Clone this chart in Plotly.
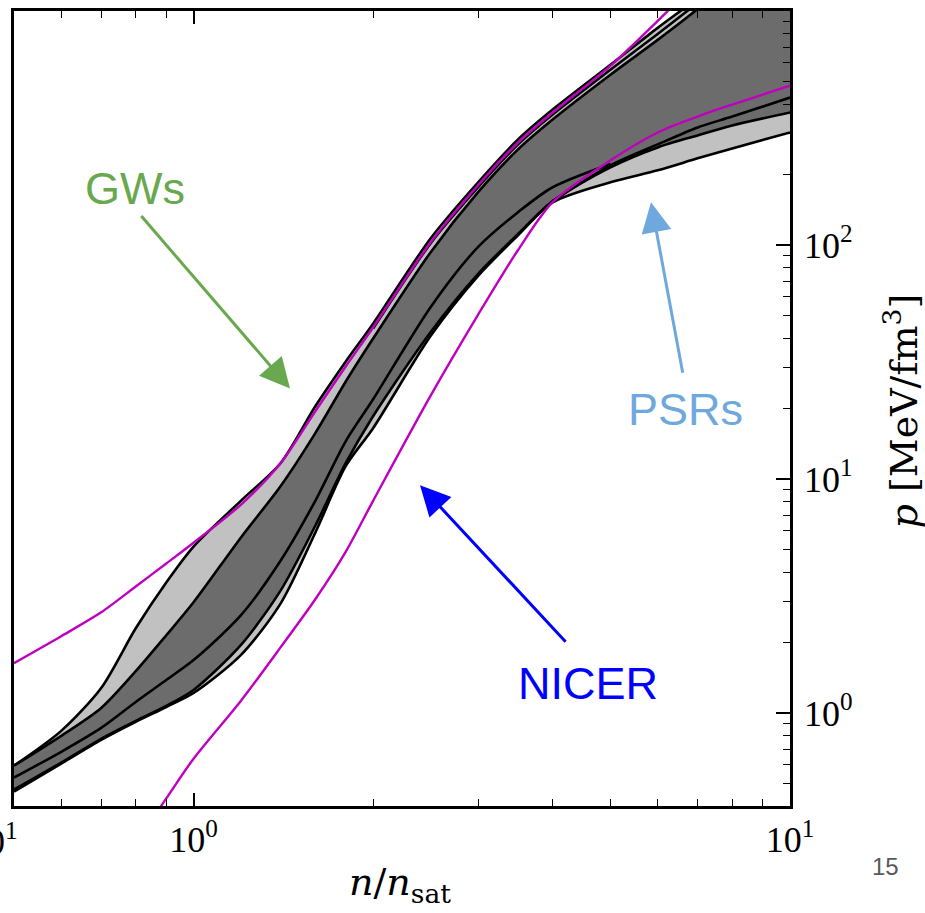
import math
import plotly.graph_objects as go

# ---------------- data (n / n_sat  vs  p [MeV/fm^3]) ----------------
n_grid = [0.5, 0.6, 0.7, 0.8, 0.9, 1.0, 1.2, 1.4, 1.6, 1.8, 2.0, 2.5,
          3.0, 3.5, 4.0, 5.0, 6.0, 7.0, 8.0, 10.0]

# outer (light grey) envelope of all posterior bands
p_env_upper = [0.595, 0.838, 1.278, 2.30, 3.61, 5.14, 8.06, 11.7, 20.45, 31.8,
               46.1, 107.1, 185.4, 282.5, 379, 589, 847, 1136, 1524, 2488]
p_env_lower = [0.461, 0.607, 0.767, 0.916, 1.06, 1.216, 1.765, 2.94, 5.89, 11.36,
               16.48, 41.0, 73.8, 110.0, 152.0, 185.4, 208.5, 234.5, 258.7, 302.6]

# inner (dark grey) band
p_dark_upper = [0.595, 0.798, 1.050, 1.509, 2.147, 2.97, 5.61, 9.33, 15.70, 26.1,
                39.8, 93.4, 168.1, 256.1, 343.6, 534, 752.6, 1020, 1368, 2256]
p_dark_lower = [0.470, 0.613, 0.775, 0.924, 1.071, 1.253, 1.947, 3.34, 6.31, 11.70,
                18.54, 42.6, 75.3, 111.4, 153.9, 214.7, 261.2, 293.9, 324.1, 368.2]

# extra contour lines inside the bands
n_line_a = [0.5, 0.6, 0.7, 0.8, 0.9, 1.0, 1.2, 1.4, 1.6, 1.8, 2.0, 2.5, 3.0, 3.5, 4.0, 5.0]
p_line_a = [0.529, 0.682, 0.863, 1.114, 1.382, 1.681, 2.61, 4.48, 8.06, 14.51,
            21.9, 54.5, 98.1, 138.1, 176.5, 222.0]
n_line_b = [2.0, 2.5, 3.0, 3.5, 4.0, 5.0, 6.0, 7.0]
p_line_b = [43.9, 102.0, 176.5, 269, 361, 561, 798, 1082]
n_line_c = [4.0, 5.0, 6.0, 7.0, 8.0, 10.0]
p_line_c = [153.9, 218.9, 269, 317.8, 354, 426.5]

# magenta bounds
n_mag_upper = n_grid
p_mag_upper = [1.632, 2.127, 2.69, 3.47, 4.35, 5.34, 7.75, 11.70, 19.47, 30.3,
               44.4, 103.0, 180, 274, 368, 583, 907, 1342, 1872, 3305]
n_mag_lower = [0.8, 0.9, 1.0, 1.2, 1.4, 1.6, 1.8, 2.0, 2.5, 3.0, 3.5, 4.0,
               5.0, 6.0, 7.0, 8.0, 10.0]
p_mag_lower = [0.277, 0.431, 0.637, 1.125, 1.91, 3.06, 4.89, 8.06, 22.8, 50.4,
               95.2, 152.4, 230, 302.6, 354, 398, 479.6]

x_major = [1, 10]
x_major_text = ["10<sup>0</sup>", "10<sup>1</sup>"]
x_minor = [0.6, 0.7, 0.8, 0.9, 2, 3, 4, 5, 6, 7, 8, 9]
y_major = [1, 10, 100]
y_major_text = ["10<sup>0</sup>", "10<sup>1</sup>", "10<sup>2</sup>"]
y_minor = [0.4, 0.5, 0.6, 0.7, 0.8, 0.9, 2, 3, 4, 5, 6, 7, 8, 9,
           20, 30, 40, 50, 60, 70, 80, 90, 200, 300, 400, 500, 600, 700, 800, 900]

LIGHT = "#c1c1c1"
DARK = "#6c6c6c"
MAG = "#bf00bf"

fig = go.Figure()


def line(x, y, color="black", width=2.6, fill=None, fillcolor=None):
    fig.add_trace(go.Scatter(
        x=x, y=y, mode="lines", fill=fill, fillcolor=fillcolor,
        line=dict(color=color, width=width, shape="spline", smoothing=0.8),
        hoverinfo="skip", showlegend=False))


# light grey envelope
line(n_grid, p_env_lower)
line(n_grid, p_env_upper, fill="tonexty", fillcolor=LIGHT)
# dark grey band
line(n_grid, p_dark_lower)
line(n_grid, p_dark_upper, fill="tonexty", fillcolor=DARK)
# interior contours
line(n_line_a, p_line_a)
line(n_line_b, p_line_b)
line(n_line_c, p_line_c)
# magenta bounds
line(n_mag_upper, p_mag_upper, color=MAG, width=2.4)
line(n_mag_lower, p_mag_lower, color=MAG, width=2.4)

# ---------------- layout ----------------
L, R, T, B = 14, 790, 8, 806
W, H = 925, 913


def px(X):
    return (X - L) / (R - L)


def py(Y):
    return (B - Y) / (B - T)


tickfont = dict(family="Liberation Serif", size=36, color="black")

fig.update_layout(
    width=W, height=H,
    margin=dict(l=L, r=W - R, t=T, b=H - B),
    paper_bgcolor="white", plot_bgcolor="white",
    xaxis=dict(
        type="log", range=[math.log10(0.5), 1.0],
        tickvals=x_major, ticktext=x_major_text,
        ticks="inside", ticklen=13, tickwidth=1.6, tickcolor="black",
        showline=True, linecolor="black", linewidth=2.6, mirror="allticks",
        showgrid=False, zeroline=False, tickfont=tickfont,
        ticklabelstandoff=0,
        minor=dict(tickvals=x_minor, ticks="inside", ticklen=7,
                   tickwidth=1.4, tickcolor="black", showgrid=False),
    ),
    yaxis=dict(
        type="log", side="right", range=[math.log10(0.4), 3.0],
        tickvals=y_major, ticktext=y_major_text,
        ticks="inside", ticklen=14, tickwidth=1.6, tickcolor="black",
        showline=True, linecolor="black", linewidth=2.6, mirror=True,
        showgrid=False, zeroline=False, tickfont=tickfont,
        ticklabelstandoff=4,
        minor=dict(tickvals=y_minor, ticks="inside", ticklen=7,
                   tickwidth=1.4, tickcolor="black", showgrid=False),
    ),
)

ann = []


def text_ann(X, Y, text, font, **kw):
    d = dict(x=px(X), y=py(Y), xref="paper", yref="paper", text=text,
             showarrow=False, xanchor="center", yanchor="middle", font=font)
    d.update(kw)
    ann.append(d)


# axis titles
text_ann(400, 885, "<i>n</i>/<i>n</i><sub>sat</sub>",
         dict(family="DejaVu Serif", size=38, color="black"))
text_ann(902, 410, "<i>p</i> [MeV/fm<sup>3</sup>]",
         dict(family="DejaVu Serif", size=38, color="black"), textangle=-90)
# partially visible tick label at the left edge of the slide
text_ann(20, 840, "10<sup>1</sup>", tickfont, xanchor="right")
# slide page number
text_ann(885, 867, "15", dict(family="Liberation Sans", size=24, color="#595959"))

# observation labels
text_ann(135, 186, "GWs", dict(family="Liberation Sans", size=45, color="#6aa84f"))
text_ann(685, 408, "PSRs", dict(family="Liberation Sans", size=45, color="#6fa8dc"))
text_ann(588, 683, "NICER", dict(family="Liberation Sans", size=45, color="#0000ff"))

# arrows
for tip, tail, col in [((290, 387), (140, 213), "#6aa84f"),
                       ((651, 200), (683, 372), "#6fa8dc"),
                       ((420, 484), (567, 642), "#0000ff")]:
    ann.append(dict(x=px(tip[0]), y=py(tip[1]), xref="paper", yref="paper",
                    ax=tail[0] - tip[0], ay=tail[1] - tip[1], axref="pixel", ayref="pixel",
                    text="", showarrow=True, arrowhead=2, arrowsize=2.0,
                    arrowwidth=3, arrowcolor=col, standoff=0))

fig.update_layout(annotations=ann)
fig.write_html("out.html")
